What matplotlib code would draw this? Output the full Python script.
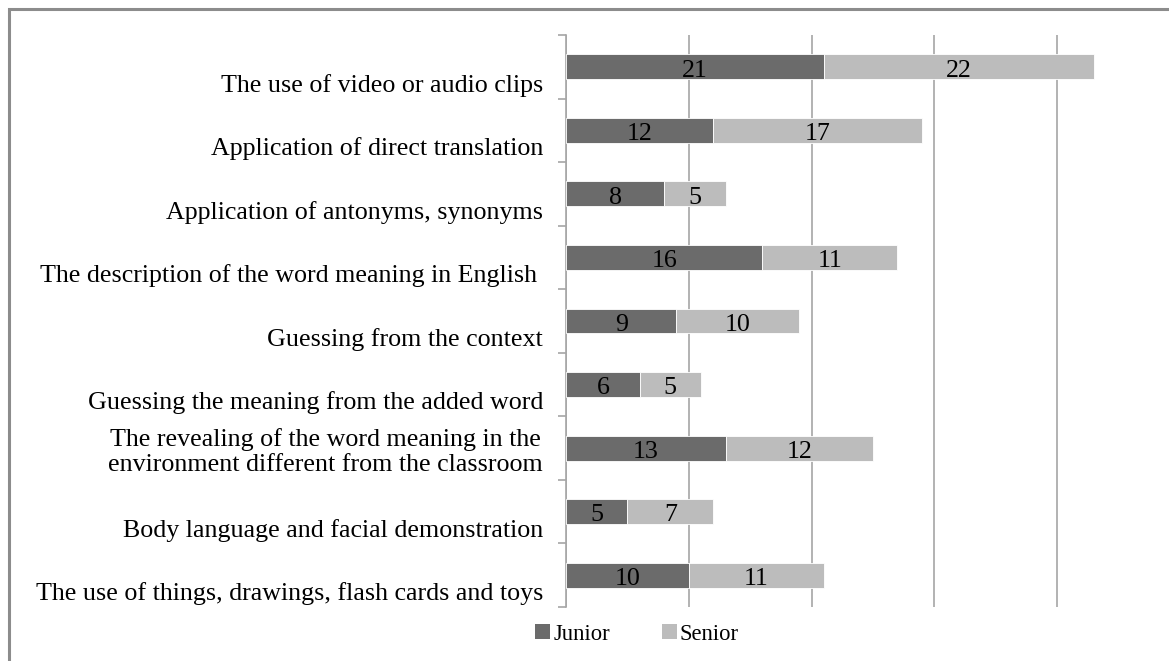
import numpy as np
import matplotlib.pyplot as plt
from matplotlib.patches import Rectangle, Patch

plt.rcParams['font.family'] = ['Liberation Serif', 'DejaVu Serif']

# Categories, listed top to bottom
methods = [
    "The use of video or audio clips",
    "Application of direct translation",
    "Application of antonyms, synonyms",
    "The description of the word meaning in English ",
    "Guessing from the context",
    "Guessing the meaning from the added word",
    "The revealing of the word meaning in the\nenvironment different from the classroom",
    "Body language and facial demonstration",
    "The use of things, drawings, flash cards and toys",
]
junior = [21, 12, 8, 16, 9, 6, 13, 5, 10]
senior = [22, 17, 5, 11, 10, 5, 12, 7, 11]

junior_color = '#6b6b6b'
senior_color = '#bcbcbc'
grid_color = '#a6a6a6'
fs = 18.75

fig = plt.figure(figsize=(11.69, 6.61), dpi=100)
ax = fig.add_axes([566 / 1169, 1 - 607 / 661, (1150 - 566) / 1169, (607 - 35) / 661])

n = len(methods)
y = np.arange(n)[::-1]  # first category at top

bar_h = 0.39
ax.barh(y, junior, height=bar_h, color=junior_color, edgecolor='white', linewidth=0.6, zorder=3)
ax.barh(y, senior, left=junior, height=bar_h, color=senior_color, edgecolor='white', linewidth=0.6, zorder=3)

# value labels inside each segment
for yi, j, s in zip(y, junior, senior):
    ax.text(j / 2, yi - 0.02, str(j), ha='center', va='center_baseline', fontsize=fs, zorder=4)
    ax.text(j + s / 2, yi - 0.02, str(s), ha='center', va='center_baseline', fontsize=fs, zorder=4)

ax.set_xlim(0, (1150 - 566) / 12.275)
ax.set_ylim(-0.5, n - 0.5)

# vertical gridlines every 10 units, no x tick labels
ax.set_xticks([0, 10, 20, 30, 40])
ax.xaxis.grid(True, color=grid_color, linewidth=1.2, zorder=0)
ax.tick_params(axis='x', length=0, labelbottom=False)

# category names sit a bit below the band centre (two-line label is centred)
label_pos = [yi - (0.0 if '\n' in m else 0.25) for yi, m in zip(y, methods)]
ax.set_yticks(label_pos)
ax.set_yticklabels(methods, fontsize=fs, multialignment='center', linespacing=1.15)
ax.tick_params(axis='y', which='major', length=0, pad=16.5)

# small tick marks on the band boundaries
ax.set_yticks(np.arange(-0.5, n, 1.0), minor=True)
ax.tick_params(axis='y', which='minor', length=6, width=1.2, color=grid_color, direction='out')

for side in ['top', 'right', 'bottom']:
    ax.spines[side].set_visible(False)
ax.spines['left'].set_color(grid_color)
ax.spines['left'].set_linewidth(1.2)

handles = [Patch(facecolor=junior_color, label='Junior'),
           Patch(facecolor=senior_color, label='Senior')]
fig.legend(handles=handles, loc='center', bbox_to_anchor=(637 / 1169, 1 - 634 / 661),
           ncol=2, frameon=False, fontsize=16.3, handlelength=0.65, handleheight=0.65,
           handletextpad=0.15, columnspacing=2.3)

# outer chart frame
fig.patches.append(Rectangle((9 / 1169, -0.1), 1.2, (661 - 9) / 661 + 0.1,
                             transform=fig.transFigure, fill=False,
                             edgecolor='#8c8c8c', linewidth=2.2))

fig.savefig('out.png', dpi=100)
